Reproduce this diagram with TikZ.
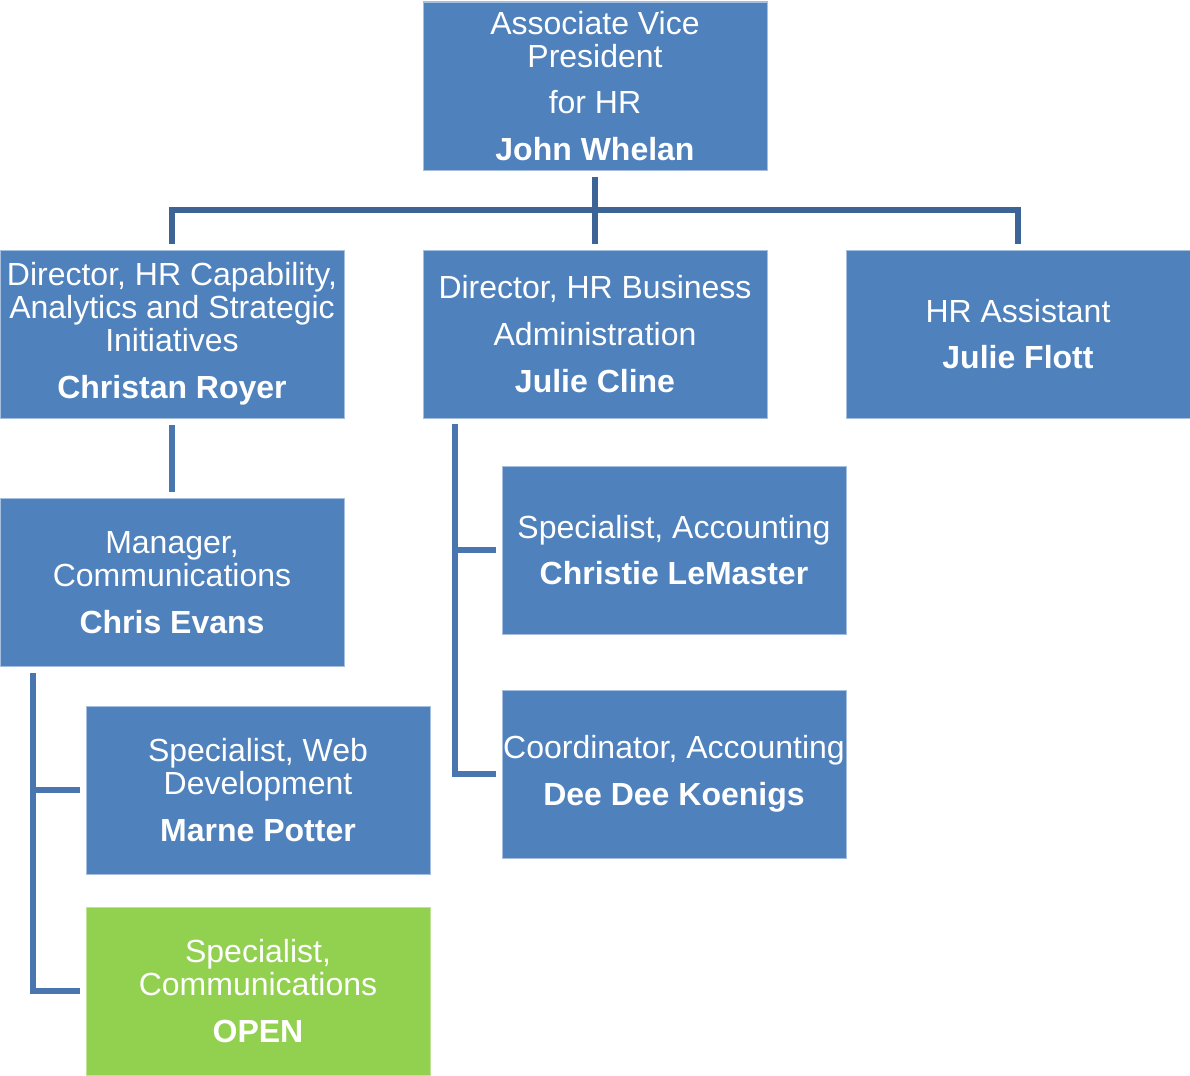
\documentclass[tikz,border=0pt]{standalone}
\usepackage{fontspec}
\setmainfont{Liberation Sans}
\usepackage{tikz}
\definecolor{boxcol}{RGB}{79,129,189}
\definecolor{opencol}{RGB}{146,208,80}
\definecolor{rimcol}{RGB}{167,191,222}
\definecolor{toplink}{RGB}{60,100,150}
\definecolor{sublink}{RGB}{74,118,176}
\tikzset{
  post/.style={draw=rimcol,line width=0.5pt,fill=boxcol,text=white,minimum width=172pt,minimum height=84pt,
    inner sep=0pt,align=center,font=\fontsize{16}{16.5}\selectfont},
  vacant/.style={post,fill=opencol,draw=opencol!60!white},
  toplk/.style={draw=toplink,line width=3pt,shorten <=3pt,shorten >=3pt},
  sublk/.style={draw=sublink,line width=3pt,shorten <=3pt,shorten >=3pt},
}

\begin{document}
\begin{tikzpicture}[x=0.5pt,y=0.5pt]
  \useasboundingbox (0,0) rectangle (1190,-1076);
  \node[post] (avp) at (595,-86) {Associate Vice\\President\\[6.8pt]for HR\\[6.8pt]\textbf{John Whelan}};
  \node[post] (dcap) at (172,-334) {Director, HR Capability,\\Analytics and Strategic\\Initiatives\\[6.8pt]\textbf{Christan Royer}};
  \node[post] (dba) at (595,-334) {Director, HR Business\\[6.8pt]Administration\\[6.8pt]\textbf{Julie Cline}};
  \node[post] (asst) at (1018,-334) {HR Assistant\\[6.8pt]\textbf{Julie Flott}};
  \node[post] (mgr) at (172,-582.5) {Manager,\\Communications\\[6.8pt]\textbf{Chris Evans}};
  \node[post] (web) at (258,-790) {Specialist, Web\\Development\\[6.8pt]\textbf{Marne Potter}};
  \node[vacant] (open) at (258,-991) {Specialist,\\Communications\\[6.8pt]\textbf{OPEN}};
  \node[post] (acct) at (674,-550) {Specialist, Accounting\\[6.8pt]\textbf{Christie LeMaster}};
  \node[post] (coord) at (674,-774) {Coordinator, Accounting\\[6.8pt]\textbf{Dee Dee Koenigs}};
  \coordinate (bus) at (595,-210);
  \coordinate (mbus) at (33,-667);
  \coordinate (dbus) at (455,-418);
  \draw[toplk] (avp) -- (dba);
  \draw[toplk] (dcap.north) |- (bus) -| (asst.north);
  \draw[sublk] (dcap) -- (mgr);
  \draw[sublk] (mbus) |- (open.west);
  \draw[sublk,shorten <=0pt] (mbus |- web.west) -- (web.west);
  \draw[sublk] (dbus) |- (coord.west);
  \draw[sublk,shorten <=0pt] (dbus |- acct.west) -- (acct.west);
\end{tikzpicture}
\end{document}
